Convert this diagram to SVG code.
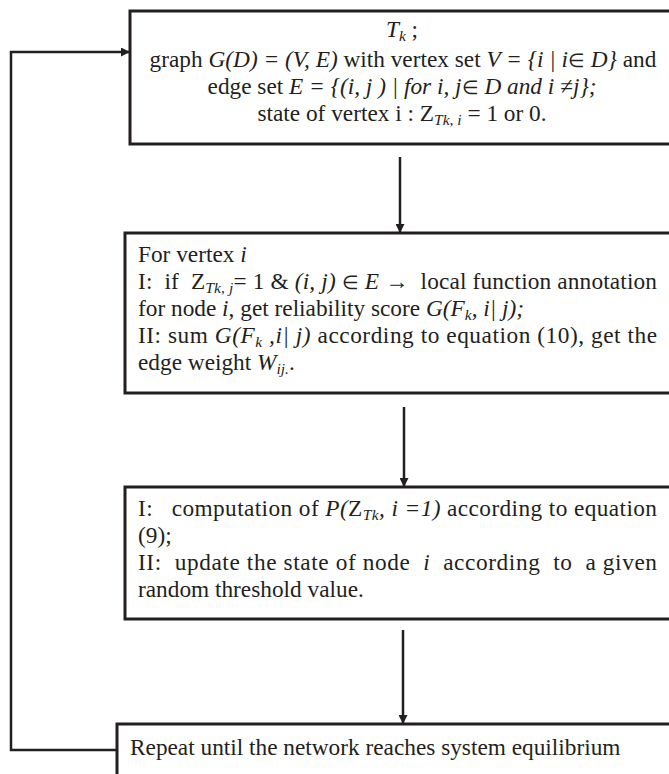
<svg xmlns="http://www.w3.org/2000/svg" width="669" height="774" viewBox="0 0 669 774">
<defs>
<style>
.box{fill:#fff;stroke:#231f20;stroke-width:3}
.con{fill:none;stroke:#231f20;stroke-width:2.5}
text{font-family:"Liberation Serif","Times New Roman",serif;font-size:23.3px;fill:#231f20}
.i{font-style:italic}
.s{font-size:15.5px}
.el{font-size:19px;font-style:normal}
</style>
<marker id="ah" markerWidth="9" markerHeight="9" refX="8" refY="4.5" orient="auto" markerUnits="userSpaceOnUse">
<path d="M0,0 L9,4.5 L0,9 Z" fill="#231f20"/>
</marker>
</defs>
<rect width="669" height="774" fill="#fff"/>
<g id="connectors">
<path class="con" d="M117,750 H11 V52 H129" marker-end="url(#ah)"/>
<path class="con" d="M400,157 V232" marker-end="url(#ah)"/>
<path class="con" d="M404,407 V486" marker-end="url(#ah)"/>
<path class="con" d="M403,630 V723" marker-end="url(#ah)"/>
</g>
<g id="node1">
<rect class="box" x="130" y="11" width="560" height="133"/>
<text x="402" y="37" text-anchor="middle"><tspan class="i">T</tspan><tspan class="i s" dy="4">k</tspan><tspan dy="-4"> ;</tspan></text>
<text x="403" y="67" text-anchor="middle">graph <tspan class="i">G(D) = (V, E)</tspan> with vertex set <tspan class="i">V = {i | i<tspan class="el">∈</tspan> D}</tspan> and</text>
<text x="402" y="94" text-anchor="middle">edge set <tspan class="i">E = {(i, j ) | for i, j<tspan class="el">∈</tspan> D and i ≠j};</tspan></text>
<text x="402" y="121" text-anchor="middle">state of vertex i : Z<tspan class="i s" dy="4">Tk, i</tspan><tspan dy="-4"> = 1 or 0.</tspan></text>
</g>
<g id="node2">
<rect class="box" x="125" y="233" width="560" height="160"/>
<text x="138" y="262">For vertex <tspan class="i">i</tspan></text>
<text x="138" y="289" textLength="519" lengthAdjust="spacing" xml:space="preserve">I:  if  Z<tspan class="i s" dy="4">Tk, j</tspan><tspan dy="-4">= 1 &amp; </tspan><tspan class="i">(i, j)</tspan> <tspan class="el">∈</tspan> <tspan class="i">E</tspan> →  local function annotation</text>
<text x="138" y="316">for node <tspan class="i">i</tspan>, get reliability score <tspan class="i">G(F</tspan><tspan class="i s" dy="4">k</tspan><tspan class="i" dy="-4">, i| j);</tspan></text>
<text x="138" y="343" textLength="519" lengthAdjust="spacing">II: sum <tspan class="i">G(F</tspan><tspan class="i s" dy="4">k</tspan><tspan class="i" dy="-4"> ,i| j)</tspan> according to equation (10), get the</text>
<text x="138" y="370">edge weight <tspan class="i">W</tspan><tspan class="i s" dy="4">ij.</tspan><tspan dy="-4">.</tspan></text>
</g>
<g id="node3">
<rect class="box" x="125" y="487" width="560" height="132"/>
<text x="138" y="516" textLength="519" lengthAdjust="spacing" xml:space="preserve">I:   computation of <tspan class="i">P(</tspan>Z<tspan class="i s" dy="4">Tk</tspan><tspan class="i" dy="-4">, i =1)</tspan> according to equation</text>
<text x="138" y="543">(9);</text>
<text x="138" y="570" textLength="519" lengthAdjust="spacing" xml:space="preserve">II:  update the state of node  <tspan class="i">i</tspan>  according  to  a given</text>
<text x="138" y="597">random threshold value.</text>
</g>
<g id="node4">
<rect class="box" x="117" y="724" width="570" height="70"/>
<text x="130" y="755">Repeat until the network reaches system equilibrium</text>
</g>
</svg>
